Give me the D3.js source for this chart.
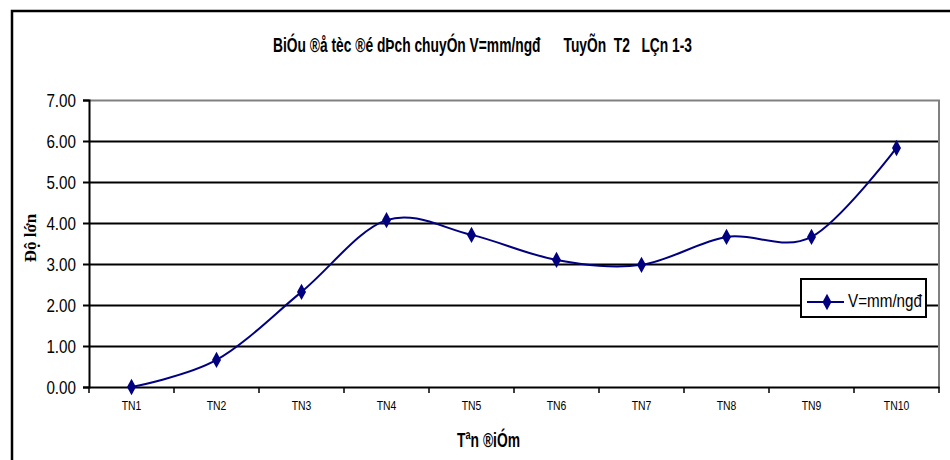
<!DOCTYPE html>
<html>
<head>
<meta charset="utf-8">
<script src="https://cdn.jsdelivr.net/npm/d3@7"></script>
<style>
  body { margin: 0; background: #fff; }
  text { font-family: "Liberation Sans", Arial, sans-serif; }
</style>
</head>
<body>
<div id="chart"></div>
<script>
// data
const categories = ["TN1", "TN2", "TN3", "TN4", "TN5", "TN6", "TN7", "TN8", "TN9", "TN10"];
const values = [0.00, 0.66, 2.32, 4.07, 3.71, 3.10, 2.98, 3.66, 3.66, 5.83];
const yTicks = [0, 1, 2, 3, 4, 5, 6, 7];
const seriesName = "V=mm/ngđ";
const chartTitle = "BiÓu ®å tèc ®é dÞch chuyÓn V=mm/ngđ      TuyÕn  T2   LÇn 1-3";
const xTitle = "Tªn ®iÓm";
const yTitle = "Độ lớn";

const W = 950, H = 460;
const margin = {top: 100, right: 11, bottom: 73, left: 89};
const width = W - margin.left - margin.right;
const height = H - margin.top - margin.bottom;

// squeeze text horizontally, the reference uses a condensed face
const squeeze = (sel, f) => sel.each(function () {
    const w = this.getComputedTextLength();
    d3.select(this).attr("textLength", w * f).attr("lengthAdjust", "spacingAndGlyphs");
});

const svg = d3.select("#chart")
    .append("svg")
    .attr("width", W)
    .attr("height", H);

// outer chart border (runs off the right and bottom edge)
svg.append("path")
    .attr("d", "M12,470 V11 H960")
    .attr("fill", "none")
    .attr("stroke", "#000")
    .attr("stroke-width", 2.5);

svg.append("text")
    .attr("x", 273)
    .attr("y", 52)
    .style("font-size", "20px")
    .style("font-weight", "bold")
    .style("white-space", "pre")
    .text(chartTitle)
    .attr("textLength", 419)
    .attr("lengthAdjust", "spacingAndGlyphs");

const g = svg.append("g")
    .attr("transform", `translate(${margin.left},${margin.top})`);

const x = d3.scaleBand().domain(categories).range([0, width]);
const y = d3.scaleLinear().domain([0, 7]).range([height, 0]);

// gridlines
g.append("g")
    .selectAll("line")
    .data(yTicks.filter(d => d > 0 && d < 7))
    .join("line")
    .attr("x1", 0)
    .attr("x2", width)
    .attr("y1", d => Math.round(y(d)) + 0.5)
    .attr("y2", d => Math.round(y(d)) + 0.5)
    .attr("stroke", "#000")
    .attr("stroke-width", 2);

// plot area top/right border (grey)
g.append("path")
    .attr("d", `M0,${y(7) + 0.5} H${width} V${height}`)
    .attr("fill", "none")
    .attr("stroke", "#808080")
    .attr("stroke-width", 2);

// y axis
const yAxis = g.append("g")
    .call(d3.axisLeft(y).tickValues(yTicks).tickFormat(d3.format(".2f")).tickSize(6).tickPadding(7));
yAxis.select(".domain").attr("stroke-width", 2);
yAxis.selectAll(".tick line").attr("stroke-width", 2);
yAxis.selectAll(".tick text")
    .style("font-size", "19px")
    .attr("dy", "0.36em")
    .attr("fill", "#000")
    .call(squeeze, 0.8);

// x axis, ticks between categories
const xAxis = g.append("g")
    .attr("transform", `translate(0,${height})`)
    .call(d3.axisBottom(x).tickSize(0).tickPadding(14));
xAxis.select(".domain").attr("stroke-width", 2);
xAxis.selectAll(".tick text")
    .style("font-size", "13px")
    .attr("fill", "#000")
    .call(squeeze, 0.8);
g.append("g")
    .selectAll("line")
    .data(d3.range(categories.length + 1))
    .join("line")
    .attr("x1", i => i * x.step())
    .attr("x2", i => i * x.step())
    .attr("y1", height)
    .attr("y2", height + 6)
    .attr("stroke", "#000")
    .attr("stroke-width", 1.5);

// axis titles
svg.append("text")
    .attr("x", 457)
    .attr("y", 447)
    .style("font-size", "21px")
    .style("font-weight", "bold")
    .text(xTitle)
    .attr("textLength", 63)
    .attr("lengthAdjust", "spacingAndGlyphs");

svg.append("text")
    .attr("transform", "translate(36,238) rotate(-90)")
    .attr("text-anchor", "middle")
    .style("font-family", "'Liberation Serif', 'Times New Roman', serif")
    .style("font-size", "17px")
    .style("font-weight", "bold")
    .text(yTitle);

// smoothed line
const line = d3.line()
    .x((d, i) => x(categories[i]) + x.bandwidth() / 2)
    .y(d => y(d))
    .curve(d3.curveCardinal.tension(0));

g.append("path")
    .datum(values)
    .attr("d", line)
    .attr("fill", "none")
    .attr("stroke", "#000080")
    .attr("stroke-width", 2);

const diamond = d3.symbol().type(d3.symbolDiamond).size(70);
g.selectAll(".marker")
    .data(values)
    .join("path")
    .attr("class", "marker")
    .attr("d", diamond)
    .attr("transform", (d, i) => `translate(${x(categories[i]) + x.bandwidth() / 2},${y(d)}) scale(1,1.05)`)
    .attr("fill", "#000080");

// legend
const lg = svg.append("g").attr("transform", "translate(801,279)");
lg.append("rect")
    .attr("width", 125)
    .attr("height", 38)
    .attr("fill", "#fff")
    .attr("stroke", "#000")
    .attr("stroke-width", 2);
lg.append("line")
    .attr("x1", 6).attr("x2", 43)
    .attr("y1", 23).attr("y2", 23)
    .attr("stroke", "#000080")
    .attr("stroke-width", 2);
lg.append("path")
    .attr("d", diamond)
    .attr("transform", "translate(26,23) scale(1,1.05)")
    .attr("fill", "#000080");
lg.append("text")
    .attr("x", 47)
    .attr("y", 28)
    .style("font-size", "19px")
    .text(seriesName)
    .attr("textLength", 74)
    .attr("lengthAdjust", "spacingAndGlyphs");
</script>
</body>
</html>
